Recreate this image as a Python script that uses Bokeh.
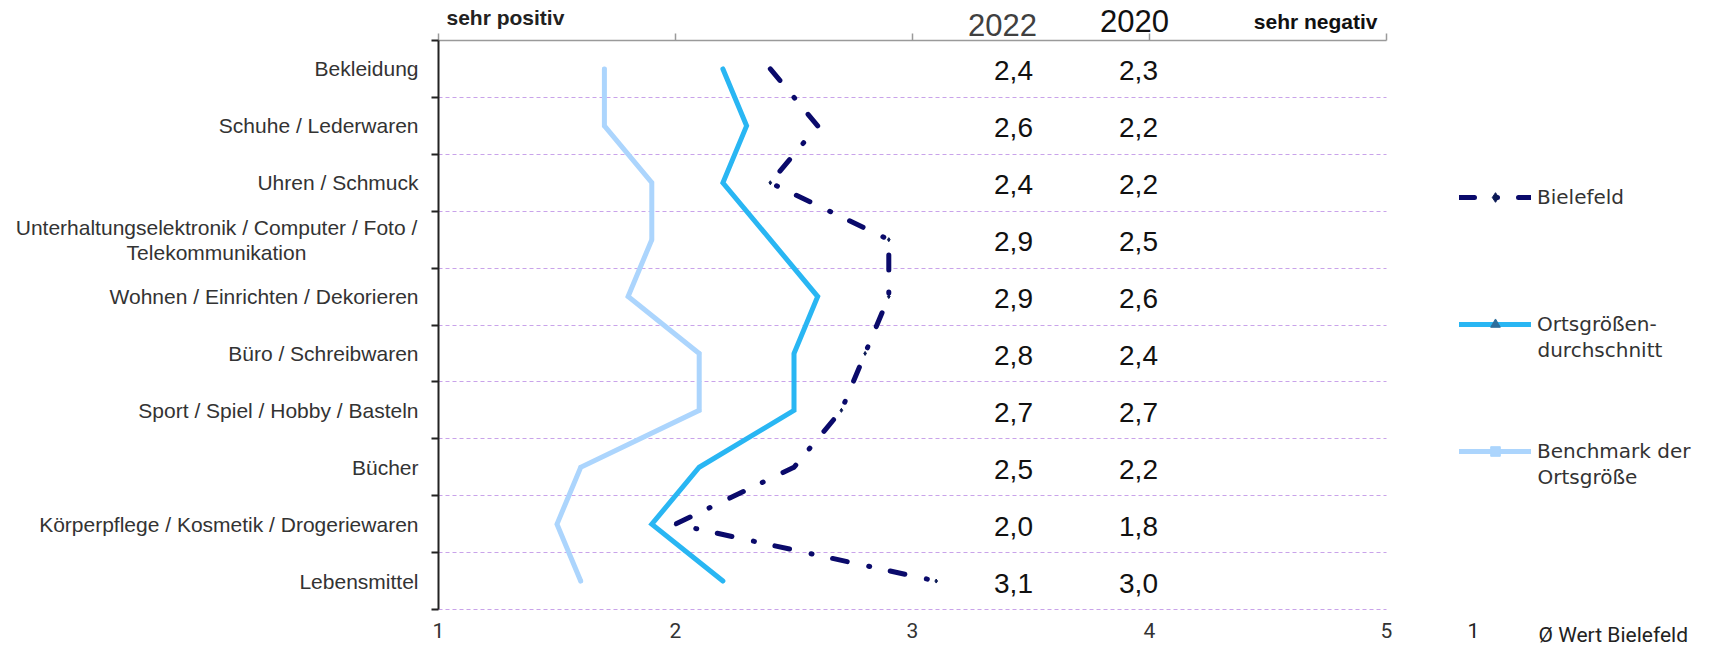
from bokeh.plotting import figure
from bokeh.models import Range1d, FixedTicker, Label, Legend, LegendItem
from bokeh.core.properties import value
from bokeh.embed import file_html
from bokeh.resources import INLINE

# ---------------- data ----------------
categories = [
    "Bekleidung",
    "Schuhe / Lederwaren",
    "Uhren / Schmuck",
    "Unterhaltungselektronik / Computer / Foto /\nTelekommunikation",
    "Wohnen / Einrichten / Dekorieren",
    "Büro / Schreibwaren",
    "Sport / Spiel / Hobby / Basteln",
    "Bücher",
    "Körperpflege / Kosmetik / Drogeriewaren",
    "Lebensmittel",
]
bielefeld_2022 = [2.4, 2.6, 2.4, 2.9, 2.9, 2.8, 2.7, 2.5, 2.0, 3.1]
bielefeld_2020 = [2.3, 2.2, 2.2, 2.5, 2.6, 2.4, 2.7, 2.2, 1.8, 3.0]
ortsgroesse = [2.2, 2.3, 2.2, 2.4, 2.6, 2.5, 2.5, 2.1, 1.9, 2.2]
benchmark = [1.7, 1.7, 1.9, 1.9, 1.8, 2.1, 2.1, 1.6, 1.5, 1.6]
x_ticks = [1, 2, 3, 4, 5]
column_headers = ["2022", "2020"]
series_names = ["Bielefeld", "Ortsgrößen-\ndurchschnitt", "Benchmark der\nOrtsgröße"]
scale_labels = ["sehr positiv", "sehr negativ"]
footnote = ["1", "Ø Wert Bielefeld"]

# ---------------- geometry helpers ----------------
W, H = 1710, 648
X0_PX, PX_X = 438.0, 237.0      # pixel of x=1, px per unit
Y0_PX, PX_Y = 609.0, 56.9       # pixel of band bottom, px per band
n = len(categories)
ys = [n - 0.5 - i for i in range(n)]


def dx(px):
    return 1 + (px - X0_PX) / PX_X


def dy(py):
    return (Y0_PX - py) / PX_Y


NAVY = "#0a0a6b"
CYAN = "#29b6f3"
LIGHT = "#acd5fd"
GRID = "#c9a3ea"
SANS = "Liberation Sans"
NARROW = "Roboto"
VERD = "DejaVu Sans"

p = figure(
    width=W, height=H,
    x_range=Range1d(dx(0), dx(W)),
    y_range=Range1d(dy(H), dy(0)),
    x_axis_location="above",
    min_border=0,
    output_backend="svg", toolbar_location=None,
)
p.outline_line_color = None
p.background_fill_color = "white"

# top axis (scale line with ticks)
ax = p.xaxis[0]
ax.fixed_location = n
ax.ticker = FixedTicker(ticks=x_ticks)
ax.bounds = (x_ticks[0], x_ticks[-1])
ax.major_tick_in = 0
ax.major_tick_out = 7
ax.minor_tick_line_color = None
ax.major_label_overrides = {t: "" for t in x_ticks}
ax.axis_line_color = "#9a9a9a"
ax.axis_line_width = 1.5
ax.major_tick_line_color = "#9a9a9a"
ax.major_tick_line_width = 1.5

# left axis (band boundaries)
ay = p.yaxis[0]
ay.fixed_location = x_ticks[0]
ay.ticker = FixedTicker(ticks=list(range(n + 1)))
ay.bounds = (0, n)
ay.major_tick_in = 0
ay.major_tick_out = 7
ay.minor_tick_line_color = None
ay.major_label_overrides = {t: "" for t in range(n + 1)}
ay.axis_line_color = "#222222"
ay.axis_line_width = 2
ay.major_tick_line_color = "#222222"
ay.major_tick_line_width = 2

# dashed band separators, limited to the scale 1..5
p.xgrid.visible = False
boundaries = list(range(n))
try:
    p.ygrid.cross_bounds = (x_ticks[0], x_ticks[-1])
    p.ygrid.ticker = FixedTicker(ticks=boundaries)
    p.ygrid.grid_line_color = GRID
    p.ygrid.grid_line_dash = "4 3"
    p.ygrid.grid_line_width = 1.2
except Exception:
    p.ygrid.visible = False
    p.segment(x0=[x_ticks[0]] * n, x1=[x_ticks[-1]] * n, y0=boundaries, y1=boundaries,
              line_color=GRID, line_dash="4 3", line_width=1.2, level="underlay")

# ---------------- series ----------------
m_bench = p.scatter(benchmark, ys, marker="square", size=3, color=LIGHT)
m_orts = p.scatter(ortsgroesse, ys, marker="triangle", size=3, color="#2d6e9c")
m_biel = p.scatter(bielefeld_2022, ys, marker="diamond", size=4, color="#0b1a55")

l_bench = p.line(benchmark, ys, line_color=LIGHT, line_width=5,
                 line_cap="round", line_join="miter")
l_orts = p.line(ortsgroesse, ys, line_color=CYAN, line_width=5,
                line_cap="round", line_join="miter")
l_biel = p.line(bielefeld_2022, ys, line_color=NAVY, line_width=5,
                line_cap="round", line_join="miter", line_dash="15 22 1 21")


# ---------------- value columns ----------------
def fmt(v):
    return f"{v:.1f}".replace(".", ",")


col_x = [dx(1013), dx(1138)]
for cx, vals in zip(col_x, [bielefeld_2022, bielefeld_2020]):
    p.text(x=[cx] * n, y=ys, text=[fmt(v) for v in vals],
           text_align="center", text_baseline="middle", y_offset=2,
           text_font=value(SANS), text_font_size="28px", text_color="#111111")

header_pos = [(1002, 24, "#404040"), (1134, 20, "#111111")]
for txt, (hx, hy, hc) in zip(column_headers, header_pos):
    p.add_layout(Label(x=dx(hx), y=dy(hy), text=txt, text_align="center",
                       text_baseline="middle", text_font=SANS,
                       text_font_size="31px", text_color=hc))

# scale captions
p.add_layout(Label(x=dx(446), y=dy(17), text=scale_labels[0], text_align="left",
                   text_baseline="middle", text_font=SANS, text_font_style="bold",
                   text_font_size="21px", text_color="#222222"))
p.add_layout(Label(x=dx(1377), y=dy(21), text=scale_labels[1], text_align="right",
                   text_baseline="middle", text_font=SANS, text_font_style="bold",
                   text_font_size="21px", text_color="#111111"))

# category labels
for cat, yc in zip(categories, ys):
    lines = cat.split("\n")
    if len(lines) == 1:
        p.add_layout(Label(x=1, y=yc, x_offset=-20, text=cat, text_align="right",
                           text_baseline="middle", text_font=SANS,
                           text_font_size="21px", text_color="#333333"))
    else:
        lh = 25.0 / PX_Y
        top_y = yc + lh * (len(lines) - 1) / 2
        for k, ln in enumerate(lines):
            p.add_layout(Label(x=dx(216), y=top_y - k * lh, text=ln,
                               text_align="center", text_baseline="middle",
                               text_font=SANS, text_font_size="21px",
                               text_color="#333333"))

# bottom scale labels
p.text(x=x_ticks, y=[dy(622)] * len(x_ticks), text=[str(t) for t in x_ticks],
       text_align="center", text_baseline="top", text_font=value(NARROW),
       text_font_size="21px", text_color="#333333")

# footnote
p.add_layout(Label(x=dx(1473), y=dy(622), text=footnote[0], text_align="center",
                   text_baseline="top", text_font=NARROW, text_font_size="21px",
                   text_color="#222222"))
p.add_layout(Label(x=dx(1538), y=dy(622), text=footnote[1], text_align="left",
                   text_baseline="top", text_font=NARROW, text_font_size="21px",
                   text_color="#222222"))

# ---------------- legend ----------------
first_lines = [s.split("\n")[0] for s in series_names]
legend = Legend(
    items=[
        LegendItem(label=first_lines[0], renderers=[l_biel, m_biel]),
        LegendItem(label=first_lines[1], renderers=[l_orts, m_orts]),
        LegendItem(label=first_lines[2], renderers=[l_bench, m_bench]),
    ],
    location=(1459, 185), orientation="vertical",
    padding=0, margin=0, spacing=103,
    glyph_width=72, glyph_height=24, label_standoff=6,
    label_text_font=VERD, label_text_font_size="20px",
    label_text_color="#333333", label_height=24,
    border_line_color=None, background_fill_alpha=0,
)
p.add_layout(legend)

# continuation lines of the legend labels
glyph_centers = [197, 324, 451]
for name, gc in zip(series_names, glyph_centers):
    for k, ln in enumerate(name.split("\n")[1:], start=1):
        p.add_layout(Label(x=dx(1537), y=dy(gc + 25 * k), text=ln,
                           text_align="left", text_baseline="middle",
                           text_font=VERD, text_font_size="20px",
                           text_color="#333333"))

open("out.html", "w").write(file_html(p, INLINE))
